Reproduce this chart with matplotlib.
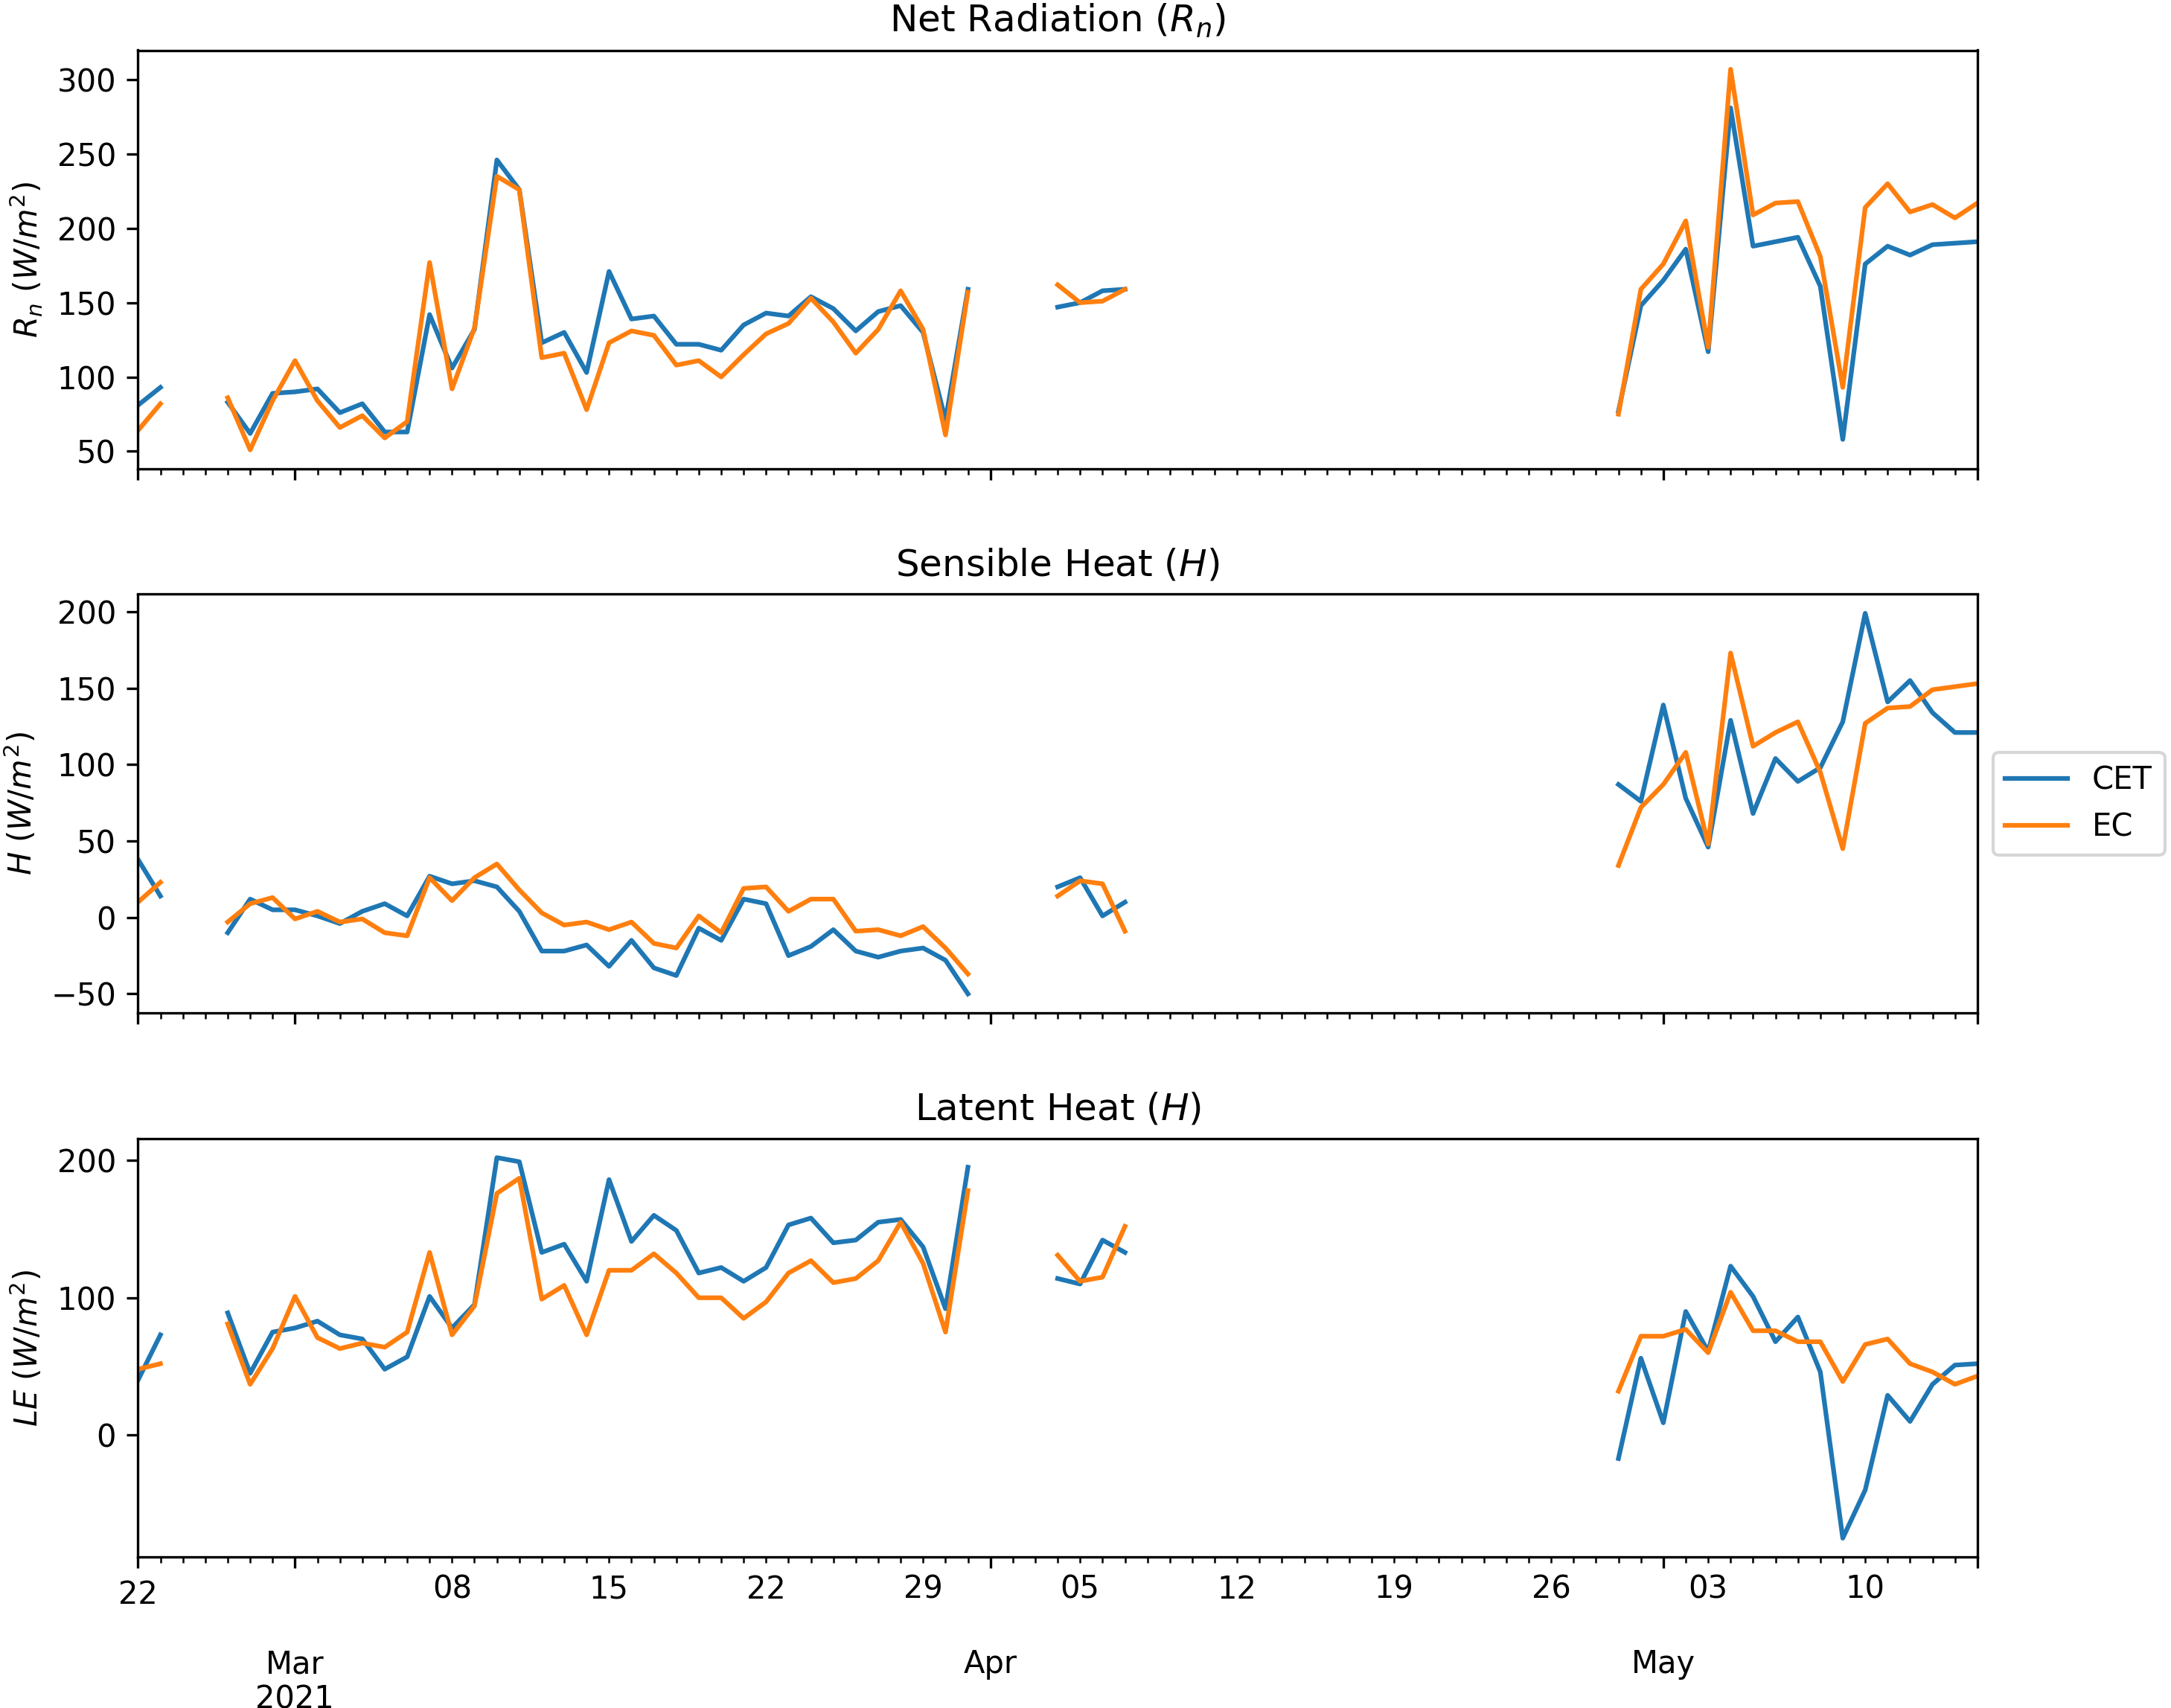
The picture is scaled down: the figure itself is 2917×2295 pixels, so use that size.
import numpy as np
import pandas as pd
import matplotlib
matplotlib.use("Agg")
import matplotlib.pyplot as plt
import matplotlib.dates as mdates
from matplotlib.ticker import FixedLocator, FixedFormatter, FuncFormatter

nan = np.nan
dates = pd.date_range("2021-02-22", "2021-05-15", freq="D")

gap3 = [nan] * 3
gap21 = [nan] * 21

rn_cet = ([81, 93, nan, nan,
           83, 62, 89, 90, 92, 76, 82, 63, 63, 142, 106, 132, 246, 226, 123, 130, 103, 171, 139, 141,
           122, 122, 118, 135, 143, 141, 154, 146, 131, 144, 148, 130, 71, 159]
          + gap3 + [147, 150, 158, 159] + gap21 +
          [77, 148, 165, 186, 117, 281, 188, 191, 194, 161, 58, 176, 188, 182, 189, 190, 191])
rn_ec = ([64, 82, nan, nan,
          86, 51, 84, 111, 84, 66, 74, 59, 70, 177, 92, 133, 235, 226, 113, 116, 78, 123, 131, 128,
          108, 111, 100, 115, 129, 136, 153, 137, 116, 132, 158, 132, 61, 157]
         + gap3 + [162, 150, 151, 159] + gap21 +
         [75, 159, 176, 205, 120, 307, 209, 217, 218, 181, 93, 214, 230, 211, 216, 207, 217])

h_cet = ([38, 14, nan, nan,
          -10, 12, 5, 5, 1, -4, 4, 9, 1, 27, 22, 24, 20, 4, -22, -22, -18, -32, -15, -33,
          -38, -7, -15, 12, 9, -25, -19, -8, -22, -26, -22, -20, -28, -50]
         + gap3 + [20, 26, 1, 10] + gap21 +
         [87, 76, 139, 78, 46, 129, 68, 104, 89, 98, 128, 199, 141, 155, 134, 121, 121])
h_ec = ([10, 23, nan, nan,
         -3, 9, 13, -1, 4, -3, -1, -10, -12, 26, 11, 26, 35, 18, 3, -5, -3, -8, -3, -17,
         -20, 1, -10, 19, 20, 4, 12, 12, -9, -8, -12, -6, -20, -37]
        + gap3 + [14, 24, 22, -9] + gap21 +
        [34, 72, 87, 108, 48, 173, 112, 121, 128, 95, 45, 127, 137, 138, 149, 151, 153])

le_cet = ([40, 73, nan, nan,
           89, 45, 75, 78, 83, 73, 70, 48, 57, 101, 78, 95, 202, 199, 133, 139, 112, 186, 141, 160,
           149, 118, 122, 112, 122, 153, 158, 140, 142, 155, 157, 137, 92, 195]
          + gap3 + [114, 110, 142, 133] + gap21 +
          [-17, 56, 9, 90, 61, 123, 101, 68, 86, 46, -75, -40, 29, 10, 37, 51, 52])
le_ec = ([48, 52, nan, nan,
          81, 37, 63, 101, 71, 63, 67, 64, 75, 133, 73, 94, 176, 187, 99, 109, 73, 120, 120, 132,
          118, 100, 100, 85, 97, 118, 127, 111, 114, 127, 155, 125, 75, 178]
         + gap3 + [131, 112, 115, 152] + gap21 +
         [32, 72, 72, 77, 60, 104, 76, 76, 68, 68, 39, 66, 70, 52, 46, 37, 43])

series_names = ["CET", "EC"]
titles = ["Net Radiation ($R_n$)", "Sensible Heat ($H$)", "Latent Heat ($H$)"]
ylabels = ["$R_n$ ($W/m^2$)", "$H$ ($W/m^2$)", "$LE$ ($W/m^2$)"]
yticks = [[50, 100, 150, 200, 250, 300], [-50, 0, 50, 100, 150, 200], [0, 100, 200]]
panels = [(rn_cet, rn_ec), (h_cet, h_ec), (le_cet, le_ec)]

major_dates = pd.to_datetime(["2021-02-22", "2021-03-01", "2021-04-01", "2021-05-01", "2021-05-15"])
major_labels = ["22", "\n\nMar\n2021", "\n\nApr", "\n\nMay", ""]

W, H = 2917, 2295
fig = plt.figure(figsize=(W / 300, H / 300), dpi=300)

left = 185.4 / W
width = (2656.8 - 185.4) / W
height = 562.5 / H
bottoms = [1 - 630.0 / H, 1 - 1361.0 / H, 1 - 2092.4 / H]

axes = []
for i in range(3):
    ax = fig.add_axes([left, bottoms[i], width, height], sharex=axes[0] if axes else None)
    axes.append(ax)

def minor_fmt(x, pos):
    d = mdates.num2date(x)
    return d.strftime("%d") if d.weekday() == 0 else ""

for i, ax in enumerate(axes):
    cet, ec = panels[i]
    ax.plot(dates, np.array(cet, dtype=float), color="C0", lw=1.5, label=series_names[0])
    ax.plot(dates, np.array(ec, dtype=float), color="C1", lw=1.5, label=series_names[1])
    ax.set_title(titles[i], fontsize=12)
    ax.set_ylabel(ylabels[i], fontsize=10)
    ax.set_yticks(yticks[i])
    ax.tick_params(labelsize=10)

ax0 = axes[0]
ax0.set_xlim(dates[0], dates[-1])
ax0.xaxis.set_major_locator(FixedLocator(mdates.date2num(major_dates)))
ax0.xaxis.set_major_formatter(FixedFormatter(major_labels))
ax0.xaxis.set_minor_locator(mdates.DayLocator())
ax0.xaxis.set_minor_formatter(FuncFormatter(minor_fmt))

for ax in axes[:2]:
    ax.tick_params(axis="x", which="both", labelbottom=False)
axes[2].tick_params(axis="x", which="both", labelbottom=True, labelsize=10)

axes[1].legend(loc="center left", bbox_to_anchor=(1.0, 0.5), fontsize=10)

fig.canvas.draw()
for lbl in axes[2].get_xticklabels():
    lbl.set_linespacing(1.15)

fig.savefig("out.png", dpi=300)
